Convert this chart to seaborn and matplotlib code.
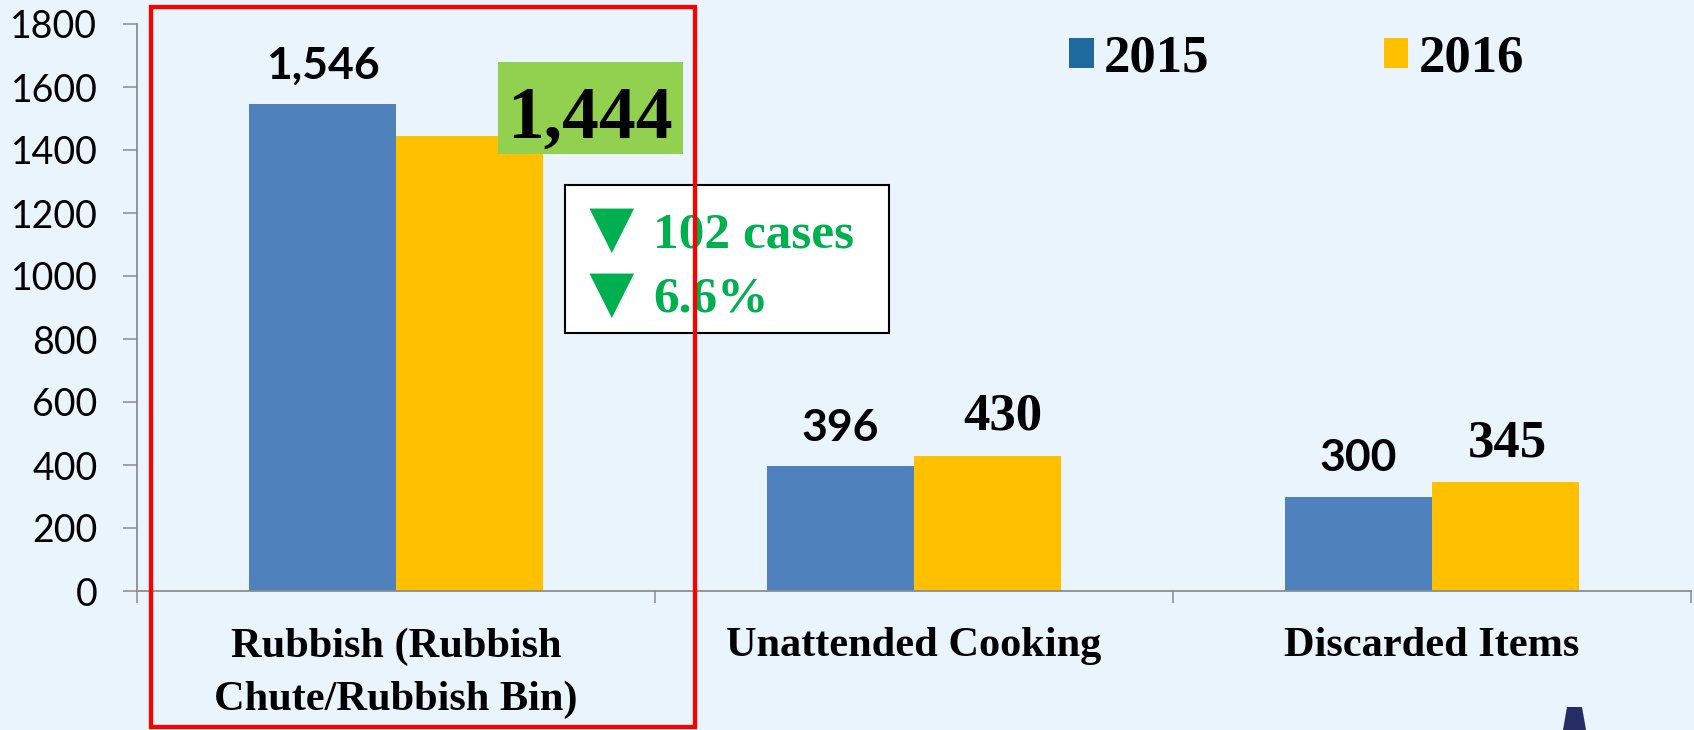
import numpy as np
import pandas as pd
import matplotlib
matplotlib.use("Agg")
import matplotlib.pyplot as plt
import seaborn as sns
from matplotlib.patches import Patch, Rectangle, Polygon

# ---------------- data ----------------
categories = ["Rubbish (Rubbish\nChute/Rubbish Bin)", "Unattended Cooking", "Discarded Items"]
years = ["2015", "2016"]
cases_2015 = [1546, 396, 300]
cases_2016 = [1444, 430, 345]
value_labels_2015 = ["1,546", "396", "300"]
value_labels_2016 = ["1,444", "430", "345"]
y_ticks = [0, 200, 400, 600, 800, 1000, 1200, 1400, 1600, 1800]
change_lines = ["102 cases", "6.6%"]

# ---------------- style ----------------
BG = "#EAF4FD"
BLUE = "#4F81BD"
LEG_BLUE = "#1F6BA0"
YELLOW = "#FFC000"
GREEN_TXT = "#00B050"
GREEN_BOX = "#92D050"
GRAY = "#8C8C8C"
SERIF = ["Liberation Serif", "DejaVu Serif"]
SANS = ["Lato", "DejaVu Sans"]

sns.set_style("ticks")
plt.rcParams["font.family"] = SANS
plt.rcParams["text.color"] = "black"
plt.rcParams["xtick.labelcolor"] = "black"
plt.rcParams["ytick.labelcolor"] = "black"

df = pd.DataFrame({
    "category": categories * 2,
    "year": [years[0]] * len(categories) + [years[1]] * len(categories),
    "cases": cases_2015 + cases_2016,
})

W, H = 1694, 730
fig = plt.figure(figsize=(W / 100, H / 100), dpi=100, facecolor=BG)
ax = fig.add_axes([137 / W, 1 - 591 / H, (1691 - 137) / W, (591 - 24) / H])
ax.set_facecolor(BG)

sns.barplot(data=df, x="category", y="cases", hue="year", order=categories,
            hue_order=years, palette=[BLUE, YELLOW], width=0.568, saturation=1,
            legend=False, errorbar=None, linewidth=0, ax=ax)

ax.set_xlim(-0.5, 2.5)
ax.set_ylim(0, 1800)
ax.set_xlabel("")
ax.set_ylabel("")

for s in ["top", "right"]:
    ax.spines[s].set_visible(False)
for s in ["left", "bottom"]:
    ax.spines[s].set_color(GRAY)
    ax.spines[s].set_linewidth(1.3)

ax.set_yticks(y_ticks)
ax.set_yticklabels([str(t) for t in y_ticks], fontfamily=SANS, fontsize=27, color="black")
ax.tick_params(axis="y", direction="out", length=10, width=1.1, color=GRAY, pad=18.5,
               labelcolor="black")

ax.set_xticks(range(len(categories)))
ax.set_xticklabels(categories, fontfamily=SERIF, fontweight="bold", fontsize=30.5,
                   linespacing=1.5, color="black")
ax.tick_params(axis="x", which="major", length=0, pad=26, labelcolor="black")
ax.set_xticks(np.arange(-0.5, len(categories), 1.0), minor=True)
ax.tick_params(axis="x", which="minor", direction="out", length=8.6, width=1.1, color=GRAY)

# ---------------- value labels ----------------
bars15 = ax.containers[0]
bars16 = ax.containers[1]
for bar, lab in zip(bars15, value_labels_2015):
    ax.annotate(lab, (bar.get_x() + bar.get_width() / 2, bar.get_height()),
                xytext=(0, 18.5), textcoords="offset points", ha="center", va="baseline",
                fontfamily=SANS, fontweight="bold", fontsize=32, color="black")

x_shift = [0, 11, 1.5]
for i, (bar, lab) in enumerate(zip(bars16, value_labels_2016)):
    cx = bar.get_x() + bar.get_width() / 2
    v = bar.get_height()
    if i == 0:
        ax.add_patch(Rectangle((cx + 0.055, v - 57), 0.357, 292, facecolor=GREEN_BOX,
                               edgecolor="none", zorder=3))
        ax.annotate(lab, (cx, v), xytext=(87, -0.7), textcoords="offset points",
                    ha="center", va="baseline", fontfamily=SERIF, fontweight="bold",
                    fontsize=53, color="black", zorder=4)
    else:
        ax.annotate(lab, (cx, v), xytext=(x_shift[i], 18.5), textcoords="offset points",
                    ha="center", va="baseline", fontfamily=SERIF, fontweight="bold",
                    fontsize=38, color="black")

# ---------------- change box ----------------
ax.add_patch(Rectangle((0.3263, 819), 0.6254, 470, facecolor="white", edgecolor="black",
                       linewidth=1.5, zorder=3))
for yv, txt in zip([1092, 886], change_lines):
    ax.text(0.415, yv - 16, "\u25BC", ha="center", va="baseline", fontfamily=SERIF,
            fontsize=55, color=GREEN_TXT, zorder=4)
    ax.text(0.496, yv, txt, ha="left", va="baseline", fontfamily=SERIF,
            fontweight="bold", fontsize=37, color=GREEN_TXT, zorder=4)

# ---------------- legend ----------------
handles = [Patch(facecolor=LEG_BLUE, edgecolor="none", label=years[0]),
           Patch(facecolor=YELLOW, edgecolor="none", label=years[1])]
fig.legend(handles=handles, loc="center left", bbox_to_anchor=(1069 / W, 1 - 59 / H),
           ncol=2, frameon=False,
           prop={"family": SERIF, "weight": "bold", "size": 38},
           handlelength=0.47, handleheight=0.51, handletextpad=0.19,
           columnspacing=3.3, borderpad=0, borderaxespad=0, labelcolor="black")

# ---------------- decorations ----------------
fig.add_artist(Rectangle((151 / W, 1 - 727 / H), (695 - 151) / W, (727 - 7) / H,
                         transform=fig.transFigure, fill=False, edgecolor="#FF0000",
                         linewidth=3.1, zorder=10))
fig.add_artist(Polygon([(1563 / W, 0), (1586 / W, 0), (1582 / W, 1 - 707 / H),
                        (1567 / W, 1 - 707 / H)], closed=True, transform=fig.transFigure,
                       facecolor="#252D64", edgecolor="none"))

fig.savefig("out.png", dpi=100, facecolor=BG)
